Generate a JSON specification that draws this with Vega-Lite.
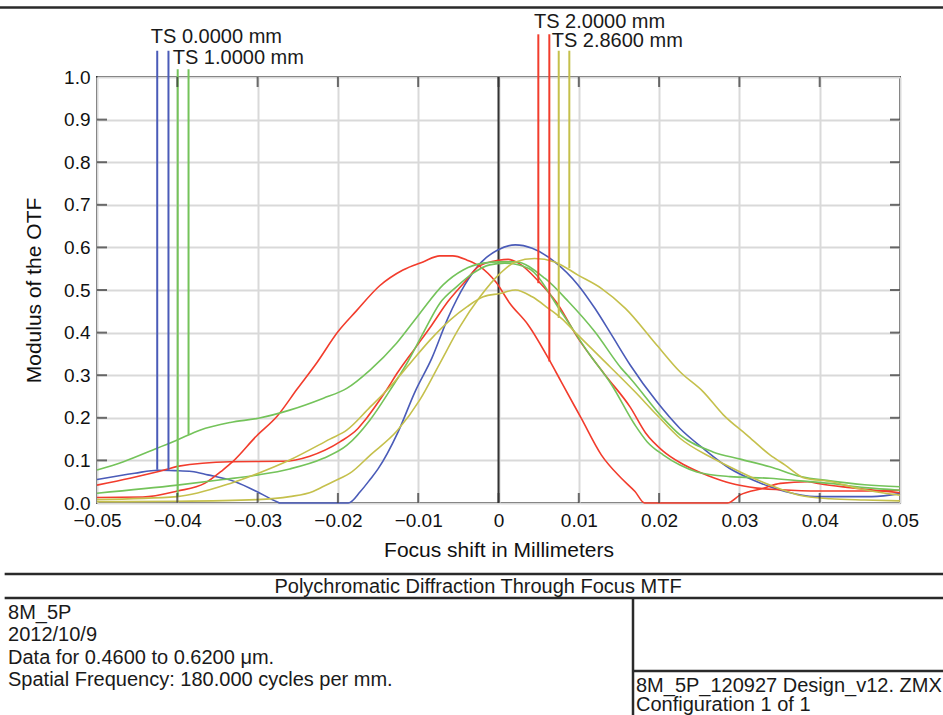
{
  "$schema": "https://vega.github.io/schema/vega-lite/v6.json",
  "width": 803,
  "height": 426,
  "autosize": {"type": "none"},
  "padding": {"left": 97, "top": 77, "right": 43, "bottom": 212},
  "background": "white",
  "config": {
    "view": {"stroke": "#333333", "strokeWidth": 2},
    "font": "Liberation Sans",
    "text": {"font": "Liberation Sans"},
    "axis": {
      "labelFont": "Liberation Sans", "labelFontSize": 19, "labelColor": "#111111",
      "labelFlush": false, "labelOverlap": false,
      "ticks": false, "domain": false,
      "grid": true, "gridColor": "#d9d9d9", "gridWidth": 2,
      "titleFont": "Liberation Sans", "titleFontSize": 21, "titleFontWeight": "normal",
      "titleColor": "#111111"
    }
  },
  "datasets": {
    "curves": [
      {"field": "TS 0.0000 mm", "curve": "T", "x": -0.05, "y": 0.055},
      {"field": "TS 0.0000 mm", "curve": "T", "x": -0.0453, "y": 0.07},
      {"field": "TS 0.0000 mm", "curve": "T", "x": -0.0424, "y": 0.077},
      {"field": "TS 0.0000 mm", "curve": "T", "x": -0.0403, "y": 0.076},
      {"field": "TS 0.0000 mm", "curve": "T", "x": -0.0382, "y": 0.074},
      {"field": "TS 0.0000 mm", "curve": "T", "x": -0.0362, "y": 0.066},
      {"field": "TS 0.0000 mm", "curve": "T", "x": -0.0328, "y": 0.05},
      {"field": "TS 0.0000 mm", "curve": "T", "x": -0.0297, "y": 0.023},
      {"field": "TS 0.0000 mm", "curve": "T", "x": -0.0276, "y": 0.003},
      {"field": "TS 0.0000 mm", "curve": "T", "x": -0.0272, "y": 0},
      {"field": "TS 0.0000 mm", "curve": "T", "x": -0.0187, "y": 0},
      {"field": "TS 0.0000 mm", "curve": "T", "x": -0.0172, "y": 0.027},
      {"field": "TS 0.0000 mm", "curve": "T", "x": -0.016, "y": 0.055},
      {"field": "TS 0.0000 mm", "curve": "T", "x": -0.015, "y": 0.08},
      {"field": "TS 0.0000 mm", "curve": "T", "x": -0.0125, "y": 0.167},
      {"field": "TS 0.0000 mm", "curve": "T", "x": -0.0104, "y": 0.261},
      {"field": "TS 0.0000 mm", "curve": "T", "x": -0.0083, "y": 0.34},
      {"field": "TS 0.0000 mm", "curve": "T", "x": -0.0063, "y": 0.434},
      {"field": "TS 0.0000 mm", "curve": "T", "x": -0.0042, "y": 0.512},
      {"field": "TS 0.0000 mm", "curve": "T", "x": -0.0021, "y": 0.566},
      {"field": "TS 0.0000 mm", "curve": "T", "x": -0.0001, "y": 0.594},
      {"field": "TS 0.0000 mm", "curve": "T", "x": 0.0021, "y": 0.606},
      {"field": "TS 0.0000 mm", "curve": "T", "x": 0.0042, "y": 0.598},
      {"field": "TS 0.0000 mm", "curve": "T", "x": 0.007, "y": 0.566},
      {"field": "TS 0.0000 mm", "curve": "T", "x": 0.0099, "y": 0.512},
      {"field": "TS 0.0000 mm", "curve": "T", "x": 0.012, "y": 0.457},
      {"field": "TS 0.0000 mm", "curve": "T", "x": 0.0141, "y": 0.394},
      {"field": "TS 0.0000 mm", "curve": "T", "x": 0.0164, "y": 0.324},
      {"field": "TS 0.0000 mm", "curve": "T", "x": 0.0197, "y": 0.238},
      {"field": "TS 0.0000 mm", "curve": "T", "x": 0.0226, "y": 0.175},
      {"field": "TS 0.0000 mm", "curve": "T", "x": 0.0255, "y": 0.128},
      {"field": "TS 0.0000 mm", "curve": "T", "x": 0.0288, "y": 0.081},
      {"field": "TS 0.0000 mm", "curve": "T", "x": 0.0322, "y": 0.05},
      {"field": "TS 0.0000 mm", "curve": "T", "x": 0.0338, "y": 0.038},
      {"field": "TS 0.0000 mm", "curve": "T", "x": 0.0357, "y": 0.027},
      {"field": "TS 0.0000 mm", "curve": "T", "x": 0.0394, "y": 0.015},
      {"field": "TS 0.0000 mm", "curve": "T", "x": 0.0465, "y": 0.015},
      {"field": "TS 0.0000 mm", "curve": "T", "x": 0.05, "y": 0.022},

      {"field": "TS 2.0000 mm", "curve": "T", "x": -0.05, "y": 0.013},
      {"field": "TS 2.0000 mm", "curve": "T", "x": -0.0443, "y": 0.014},
      {"field": "TS 2.0000 mm", "curve": "T", "x": -0.04, "y": 0.028},
      {"field": "TS 2.0000 mm", "curve": "T", "x": -0.0366, "y": 0.046},
      {"field": "TS 2.0000 mm", "curve": "T", "x": -0.0343, "y": 0.078},
      {"field": "TS 2.0000 mm", "curve": "T", "x": -0.0331, "y": 0.097},
      {"field": "TS 2.0000 mm", "curve": "T", "x": -0.0301, "y": 0.158},
      {"field": "TS 2.0000 mm", "curve": "T", "x": -0.0276, "y": 0.203},
      {"field": "TS 2.0000 mm", "curve": "T", "x": -0.0251, "y": 0.267},
      {"field": "TS 2.0000 mm", "curve": "T", "x": -0.0226, "y": 0.33},
      {"field": "TS 2.0000 mm", "curve": "T", "x": -0.02, "y": 0.402},
      {"field": "TS 2.0000 mm", "curve": "T", "x": -0.0177, "y": 0.451},
      {"field": "TS 2.0000 mm", "curve": "T", "x": -0.0148, "y": 0.51},
      {"field": "TS 2.0000 mm", "curve": "T", "x": -0.0119, "y": 0.547},
      {"field": "TS 2.0000 mm", "curve": "T", "x": -0.0094, "y": 0.566},
      {"field": "TS 2.0000 mm", "curve": "T", "x": -0.0073, "y": 0.58},
      {"field": "TS 2.0000 mm", "curve": "T", "x": -0.0057, "y": 0.58},
      {"field": "TS 2.0000 mm", "curve": "T", "x": -0.0039, "y": 0.57},
      {"field": "TS 2.0000 mm", "curve": "T", "x": -0.0023, "y": 0.555},
      {"field": "TS 2.0000 mm", "curve": "T", "x": -0.0003, "y": 0.518},
      {"field": "TS 2.0000 mm", "curve": "T", "x": 0.0014, "y": 0.469},
      {"field": "TS 2.0000 mm", "curve": "T", "x": 0.0037, "y": 0.418},
      {"field": "TS 2.0000 mm", "curve": "T", "x": 0.0062, "y": 0.34},
      {"field": "TS 2.0000 mm", "curve": "T", "x": 0.0078, "y": 0.285},
      {"field": "TS 2.0000 mm", "curve": "T", "x": 0.0103, "y": 0.199},
      {"field": "TS 2.0000 mm", "curve": "T", "x": 0.0128, "y": 0.113},
      {"field": "TS 2.0000 mm", "curve": "T", "x": 0.0153, "y": 0.058},
      {"field": "TS 2.0000 mm", "curve": "T", "x": 0.017, "y": 0.027},
      {"field": "TS 2.0000 mm", "curve": "T", "x": 0.0182, "y": 0},
      {"field": "TS 2.0000 mm", "curve": "T", "x": 0.0285, "y": 0},
      {"field": "TS 2.0000 mm", "curve": "T", "x": 0.0301, "y": 0.019},
      {"field": "TS 2.0000 mm", "curve": "T", "x": 0.0329, "y": 0.034},
      {"field": "TS 2.0000 mm", "curve": "T", "x": 0.0351, "y": 0.046},
      {"field": "TS 2.0000 mm", "curve": "T", "x": 0.0385, "y": 0.05},
      {"field": "TS 2.0000 mm", "curve": "T", "x": 0.04, "y": 0.045},
      {"field": "TS 2.0000 mm", "curve": "T", "x": 0.0438, "y": 0.036},
      {"field": "TS 2.0000 mm", "curve": "T", "x": 0.05, "y": 0.024},

      {"field": "TS 2.0000 mm", "curve": "S", "x": -0.05, "y": 0.042},
      {"field": "TS 2.0000 mm", "curve": "S", "x": -0.0459, "y": 0.058},
      {"field": "TS 2.0000 mm", "curve": "S", "x": -0.0413, "y": 0.079},
      {"field": "TS 2.0000 mm", "curve": "S", "x": -0.04, "y": 0.086},
      {"field": "TS 2.0000 mm", "curve": "S", "x": -0.0334, "y": 0.097},
      {"field": "TS 2.0000 mm", "curve": "S", "x": -0.0268, "y": 0.098},
      {"field": "TS 2.0000 mm", "curve": "S", "x": -0.0235, "y": 0.11},
      {"field": "TS 2.0000 mm", "curve": "S", "x": -0.0197, "y": 0.144},
      {"field": "TS 2.0000 mm", "curve": "S", "x": -0.0175, "y": 0.175},
      {"field": "TS 2.0000 mm", "curve": "S", "x": -0.0166, "y": 0.195},
      {"field": "TS 2.0000 mm", "curve": "S", "x": -0.0141, "y": 0.261},
      {"field": "TS 2.0000 mm", "curve": "S", "x": -0.0125, "y": 0.308},
      {"field": "TS 2.0000 mm", "curve": "S", "x": -0.0104, "y": 0.363},
      {"field": "TS 2.0000 mm", "curve": "S", "x": -0.0083, "y": 0.418},
      {"field": "TS 2.0000 mm", "curve": "S", "x": -0.0063, "y": 0.473},
      {"field": "TS 2.0000 mm", "curve": "S", "x": -0.0042, "y": 0.519},
      {"field": "TS 2.0000 mm", "curve": "S", "x": -0.0025, "y": 0.555},
      {"field": "TS 2.0000 mm", "curve": "S", "x": 0, "y": 0.57},
      {"field": "TS 2.0000 mm", "curve": "S", "x": 0.0012, "y": 0.572},
      {"field": "TS 2.0000 mm", "curve": "S", "x": 0.0025, "y": 0.563},
      {"field": "TS 2.0000 mm", "curve": "S", "x": 0.005, "y": 0.52},
      {"field": "TS 2.0000 mm", "curve": "S", "x": 0.0073, "y": 0.469},
      {"field": "TS 2.0000 mm", "curve": "S", "x": 0.0098, "y": 0.39},
      {"field": "TS 2.0000 mm", "curve": "S", "x": 0.0133, "y": 0.3},
      {"field": "TS 2.0000 mm", "curve": "S", "x": 0.0164, "y": 0.225},
      {"field": "TS 2.0000 mm", "curve": "S", "x": 0.0183, "y": 0.165},
      {"field": "TS 2.0000 mm", "curve": "S", "x": 0.0205, "y": 0.122},
      {"field": "TS 2.0000 mm", "curve": "S", "x": 0.0226, "y": 0.095},
      {"field": "TS 2.0000 mm", "curve": "S", "x": 0.0247, "y": 0.075},
      {"field": "TS 2.0000 mm", "curve": "S", "x": 0.0267, "y": 0.06},
      {"field": "TS 2.0000 mm", "curve": "S", "x": 0.0288, "y": 0.047},
      {"field": "TS 2.0000 mm", "curve": "S", "x": 0.0322, "y": 0.035},
      {"field": "TS 2.0000 mm", "curve": "S", "x": 0.0351, "y": 0.031},
      {"field": "TS 2.0000 mm", "curve": "S", "x": 0.04, "y": 0.028},
      {"field": "TS 2.0000 mm", "curve": "S", "x": 0.045, "y": 0.028},
      {"field": "TS 2.0000 mm", "curve": "S", "x": 0.05, "y": 0.03},

      {"field": "TS 1.0000 mm", "curve": "T", "x": -0.05, "y": 0.0775},
      {"field": "TS 1.0000 mm", "curve": "T", "x": -0.0467, "y": 0.097},
      {"field": "TS 1.0000 mm", "curve": "T", "x": -0.0426, "y": 0.128},
      {"field": "TS 1.0000 mm", "curve": "T", "x": -0.04, "y": 0.148},
      {"field": "TS 1.0000 mm", "curve": "T", "x": -0.0372, "y": 0.171},
      {"field": "TS 1.0000 mm", "curve": "T", "x": -0.0334, "y": 0.189},
      {"field": "TS 1.0000 mm", "curve": "T", "x": -0.0299, "y": 0.199},
      {"field": "TS 1.0000 mm", "curve": "T", "x": -0.026, "y": 0.218},
      {"field": "TS 1.0000 mm", "curve": "T", "x": -0.0218, "y": 0.246},
      {"field": "TS 1.0000 mm", "curve": "T", "x": -0.0189, "y": 0.269},
      {"field": "TS 1.0000 mm", "curve": "T", "x": -0.016, "y": 0.312},
      {"field": "TS 1.0000 mm", "curve": "T", "x": -0.0127, "y": 0.375},
      {"field": "TS 1.0000 mm", "curve": "T", "x": -0.0098, "y": 0.445},
      {"field": "TS 1.0000 mm", "curve": "T", "x": -0.0069, "y": 0.512},
      {"field": "TS 1.0000 mm", "curve": "T", "x": -0.0044, "y": 0.547},
      {"field": "TS 1.0000 mm", "curve": "T", "x": -0.0019, "y": 0.563},
      {"field": "TS 1.0000 mm", "curve": "T", "x": 0.0002, "y": 0.566},
      {"field": "TS 1.0000 mm", "curve": "T", "x": 0.0021, "y": 0.566},
      {"field": "TS 1.0000 mm", "curve": "T", "x": 0.0058, "y": 0.527},
      {"field": "TS 1.0000 mm", "curve": "T", "x": 0.0087, "y": 0.473},
      {"field": "TS 1.0000 mm", "curve": "T", "x": 0.012, "y": 0.402},
      {"field": "TS 1.0000 mm", "curve": "T", "x": 0.0153, "y": 0.316},
      {"field": "TS 1.0000 mm", "curve": "T", "x": 0.0164, "y": 0.293},
      {"field": "TS 1.0000 mm", "curve": "T", "x": 0.0205, "y": 0.199},
      {"field": "TS 1.0000 mm", "curve": "T", "x": 0.0226, "y": 0.16},
      {"field": "TS 1.0000 mm", "curve": "T", "x": 0.0267, "y": 0.12},
      {"field": "TS 1.0000 mm", "curve": "T", "x": 0.0301, "y": 0.103},
      {"field": "TS 1.0000 mm", "curve": "T", "x": 0.0338, "y": 0.085},
      {"field": "TS 1.0000 mm", "curve": "T", "x": 0.0376, "y": 0.062},
      {"field": "TS 1.0000 mm", "curve": "T", "x": 0.0413, "y": 0.052},
      {"field": "TS 1.0000 mm", "curve": "T", "x": 0.0456, "y": 0.043},
      {"field": "TS 1.0000 mm", "curve": "T", "x": 0.05, "y": 0.038},

      {"field": "TS 1.0000 mm", "curve": "S", "x": -0.05, "y": 0.023},
      {"field": "TS 1.0000 mm", "curve": "S", "x": -0.04, "y": 0.042},
      {"field": "TS 1.0000 mm", "curve": "S", "x": -0.0343, "y": 0.055},
      {"field": "TS 1.0000 mm", "curve": "S", "x": -0.0299, "y": 0.066},
      {"field": "TS 1.0000 mm", "curve": "S", "x": -0.026, "y": 0.08},
      {"field": "TS 1.0000 mm", "curve": "S", "x": -0.0218, "y": 0.105},
      {"field": "TS 1.0000 mm", "curve": "S", "x": -0.0189, "y": 0.135},
      {"field": "TS 1.0000 mm", "curve": "S", "x": -0.016, "y": 0.195},
      {"field": "TS 1.0000 mm", "curve": "S", "x": -0.0135, "y": 0.265},
      {"field": "TS 1.0000 mm", "curve": "S", "x": -0.0114, "y": 0.328},
      {"field": "TS 1.0000 mm", "curve": "S", "x": -0.0094, "y": 0.398},
      {"field": "TS 1.0000 mm", "curve": "S", "x": -0.0073, "y": 0.469},
      {"field": "TS 1.0000 mm", "curve": "S", "x": -0.0052, "y": 0.508},
      {"field": "TS 1.0000 mm", "curve": "S", "x": -0.0032, "y": 0.539},
      {"field": "TS 1.0000 mm", "curve": "S", "x": -0.0011, "y": 0.559},
      {"field": "TS 1.0000 mm", "curve": "S", "x": 0.0008, "y": 0.563},
      {"field": "TS 1.0000 mm", "curve": "S", "x": 0.0037, "y": 0.551},
      {"field": "TS 1.0000 mm", "curve": "S", "x": 0.0078, "y": 0.449},
      {"field": "TS 1.0000 mm", "curve": "S", "x": 0.0111, "y": 0.355},
      {"field": "TS 1.0000 mm", "curve": "S", "x": 0.0141, "y": 0.277},
      {"field": "TS 1.0000 mm", "curve": "S", "x": 0.017, "y": 0.183},
      {"field": "TS 1.0000 mm", "curve": "S", "x": 0.0185, "y": 0.144},
      {"field": "TS 1.0000 mm", "curve": "S", "x": 0.0205, "y": 0.113},
      {"field": "TS 1.0000 mm", "curve": "S", "x": 0.0226, "y": 0.089},
      {"field": "TS 1.0000 mm", "curve": "S", "x": 0.0247, "y": 0.073},
      {"field": "TS 1.0000 mm", "curve": "S", "x": 0.0288, "y": 0.062},
      {"field": "TS 1.0000 mm", "curve": "S", "x": 0.0338, "y": 0.058},
      {"field": "TS 1.0000 mm", "curve": "S", "x": 0.0376, "y": 0.052},
      {"field": "TS 1.0000 mm", "curve": "S", "x": 0.0413, "y": 0.046},
      {"field": "TS 1.0000 mm", "curve": "S", "x": 0.0456, "y": 0.036},
      {"field": "TS 1.0000 mm", "curve": "S", "x": 0.05, "y": 0.03},

      {"field": "TS 2.8600 mm", "curve": "T", "x": -0.05, "y": 0.003},
      {"field": "TS 2.8600 mm", "curve": "T", "x": -0.04, "y": 0.004},
      {"field": "TS 2.8600 mm", "curve": "T", "x": -0.0301, "y": 0.008},
      {"field": "TS 2.8600 mm", "curve": "T", "x": -0.026, "y": 0.015},
      {"field": "TS 2.8600 mm", "curve": "T", "x": -0.0231, "y": 0.027},
      {"field": "TS 2.8600 mm", "curve": "T", "x": -0.0219, "y": 0.038},
      {"field": "TS 2.8600 mm", "curve": "T", "x": -0.0197, "y": 0.058},
      {"field": "TS 2.8600 mm", "curve": "T", "x": -0.0185, "y": 0.07},
      {"field": "TS 2.8600 mm", "curve": "T", "x": -0.016, "y": 0.112},
      {"field": "TS 2.8600 mm", "curve": "T", "x": -0.0126, "y": 0.17},
      {"field": "TS 2.8600 mm", "curve": "T", "x": -0.0098, "y": 0.242},
      {"field": "TS 2.8600 mm", "curve": "T", "x": -0.0073, "y": 0.328},
      {"field": "TS 2.8600 mm", "curve": "T", "x": -0.0048, "y": 0.414},
      {"field": "TS 2.8600 mm", "curve": "T", "x": -0.0023, "y": 0.484},
      {"field": "TS 2.8600 mm", "curve": "T", "x": 0.0002, "y": 0.539},
      {"field": "TS 2.8600 mm", "curve": "T", "x": 0.0021, "y": 0.566},
      {"field": "TS 2.8600 mm", "curve": "T", "x": 0.0045, "y": 0.574},
      {"field": "TS 2.8600 mm", "curve": "T", "x": 0.007, "y": 0.566},
      {"field": "TS 2.8600 mm", "curve": "T", "x": 0.0099, "y": 0.535},
      {"field": "TS 2.8600 mm", "curve": "T", "x": 0.0128, "y": 0.504},
      {"field": "TS 2.8600 mm", "curve": "T", "x": 0.0158, "y": 0.457},
      {"field": "TS 2.8600 mm", "curve": "T", "x": 0.0197, "y": 0.371},
      {"field": "TS 2.8600 mm", "curve": "T", "x": 0.0226, "y": 0.308},
      {"field": "TS 2.8600 mm", "curve": "T", "x": 0.0255, "y": 0.261},
      {"field": "TS 2.8600 mm", "curve": "T", "x": 0.028, "y": 0.207},
      {"field": "TS 2.8600 mm", "curve": "T", "x": 0.0309, "y": 0.16},
      {"field": "TS 2.8600 mm", "curve": "T", "x": 0.0338, "y": 0.113},
      {"field": "TS 2.8600 mm", "curve": "T", "x": 0.0357, "y": 0.089},
      {"field": "TS 2.8600 mm", "curve": "T", "x": 0.0382, "y": 0.058},
      {"field": "TS 2.8600 mm", "curve": "T", "x": 0.0415, "y": 0.05},
      {"field": "TS 2.8600 mm", "curve": "T", "x": 0.0448, "y": 0.034},
      {"field": "TS 2.8600 mm", "curve": "T", "x": 0.05, "y": 0.018},

      {"field": "TS 2.8600 mm", "curve": "S", "x": -0.05, "y": 0.008},
      {"field": "TS 2.8600 mm", "curve": "S", "x": -0.04, "y": 0.015},
      {"field": "TS 2.8600 mm", "curve": "S", "x": -0.0334, "y": 0.046},
      {"field": "TS 2.8600 mm", "curve": "S", "x": -0.0299, "y": 0.07},
      {"field": "TS 2.8600 mm", "curve": "S", "x": -0.026, "y": 0.101},
      {"field": "TS 2.8600 mm", "curve": "S", "x": -0.021, "y": 0.15},
      {"field": "TS 2.8600 mm", "curve": "S", "x": -0.0189, "y": 0.171},
      {"field": "TS 2.8600 mm", "curve": "S", "x": -0.016, "y": 0.225},
      {"field": "TS 2.8600 mm", "curve": "S", "x": -0.0135, "y": 0.273},
      {"field": "TS 2.8600 mm", "curve": "S", "x": -0.011, "y": 0.328},
      {"field": "TS 2.8600 mm", "curve": "S", "x": -0.0085, "y": 0.383},
      {"field": "TS 2.8600 mm", "curve": "S", "x": -0.006, "y": 0.43},
      {"field": "TS 2.8600 mm", "curve": "S", "x": -0.0039, "y": 0.461},
      {"field": "TS 2.8600 mm", "curve": "S", "x": -0.0019, "y": 0.484},
      {"field": "TS 2.8600 mm", "curve": "S", "x": 0.0002, "y": 0.492},
      {"field": "TS 2.8600 mm", "curve": "S", "x": 0.0021, "y": 0.5},
      {"field": "TS 2.8600 mm", "curve": "S", "x": 0.0042, "y": 0.484},
      {"field": "TS 2.8600 mm", "curve": "S", "x": 0.0062, "y": 0.457},
      {"field": "TS 2.8600 mm", "curve": "S", "x": 0.0078, "y": 0.434},
      {"field": "TS 2.8600 mm", "curve": "S", "x": 0.0099, "y": 0.394},
      {"field": "TS 2.8600 mm", "curve": "S", "x": 0.0128, "y": 0.34},
      {"field": "TS 2.8600 mm", "curve": "S", "x": 0.017, "y": 0.261},
      {"field": "TS 2.8600 mm", "curve": "S", "x": 0.0197, "y": 0.207},
      {"field": "TS 2.8600 mm", "curve": "S", "x": 0.0226, "y": 0.152},
      {"field": "TS 2.8600 mm", "curve": "S", "x": 0.0267, "y": 0.105},
      {"field": "TS 2.8600 mm", "curve": "S", "x": 0.0301, "y": 0.073},
      {"field": "TS 2.8600 mm", "curve": "S", "x": 0.0338, "y": 0.042},
      {"field": "TS 2.8600 mm", "curve": "S", "x": 0.0373, "y": 0.019},
      {"field": "TS 2.8600 mm", "curve": "S", "x": 0.0413, "y": 0.01},
      {"field": "TS 2.8600 mm", "curve": "S", "x": 0.0456, "y": 0.007},
      {"field": "TS 2.8600 mm", "curve": "S", "x": 0.05, "y": 0.005}
    ],
    "markers": [
      {"field": "TS 0.0000 mm", "x": -0.0425, "top": 1.0617, "bottom": 0.078},
      {"field": "TS 0.0000 mm", "x": -0.0411, "top": 1.0617, "bottom": 0.078},
      {"field": "TS 1.0000 mm", "x": -0.03995, "top": 1.018, "bottom": 0.015},
      {"field": "TS 1.0000 mm", "x": -0.0386, "top": 1.018, "bottom": 0.16},
      {"field": "TS 2.0000 mm", "x": 0.00496, "top": 1.1002, "bottom": 0.516},
      {"field": "TS 2.0000 mm", "x": 0.00633, "top": 1.1002, "bottom": 0.332},
      {"field": "TS 2.8600 mm", "x": 0.0075, "top": 1.0617, "bottom": 0.434},
      {"field": "TS 2.8600 mm", "x": 0.00882, "top": 1.0617, "bottom": 0.551}
    ],
    "labels": [
      {"label": "TS 0.0000 mm", "x": -0.0433, "y": 1.0791},
      {"label": "TS 1.0000 mm", "x": -0.04057, "y": 1.0298},
      {"label": "TS 2.0000 mm", "x": 0.00442, "y": 1.1143},
      {"label": "TS 2.8600 mm", "x": 0.00662, "y": 1.0697}
    ],
    "xticks": [{"x": -0.04}, {"x": -0.03}, {"x": -0.02}, {"x": -0.01}, {"x": 0}, {"x": 0.01}, {"x": 0.02}, {"x": 0.03}, {"x": 0.04}],
    "yticks": [{"y": 0.1}, {"y": 0.2}, {"y": 0.3}, {"y": 0.4}, {"y": 0.5}, {"y": 0.6}, {"y": 0.7}, {"y": 0.8}, {"y": 0.9}],
    "boxlines": [
      {"x": -0.0625, "x2": 0.056, "y": 1.1631, "y2": 1.1631},
      {"x": -0.0615, "x2": 0.056, "y": -0.1667, "y2": -0.1667},
      {"x": -0.0615, "x2": 0.056, "y": -0.223, "y2": -0.223},
      {"x": 0.01675, "x2": 0.01675, "y": -0.223, "y2": -0.52},
      {"x": 0.01675, "x2": 0.056, "y": -0.3944, "y2": -0.3944}
    ],
    "notes": [
      {"text": "8M_5P", "x": -0.06108, "y": -0.2723},
      {"text": "2012/10/9", "x": -0.06108, "y": -0.3239},
      {"text": "Data for 0.4600 to 0.6200 μm.", "x": -0.06108, "y": -0.3779},
      {"text": "Spatial Frequency: 180.000 cycles per mm.", "x": -0.06108, "y": -0.4296},
      {"text": "8M_5P_120927 Design_v12. ZMX", "x": 0.01712, "y": -0.4425},
      {"text": "Configuration 1 of 1", "x": 0.01712, "y": -0.4894}
    ],
    "heading": [
      {"text": "Polychromatic Diffraction Through Focus MTF", "x": -0.00255, "y": -0.2113}
    ]
  },
  "layer": [
    {
      "data": {"values": [{"x": 0, "y": 0, "y2": 1}]},
      "mark": {"type": "rule", "color": "#333333", "strokeWidth": 2},
      "encoding": {
        "x": {
          "field": "x", "type": "quantitative",
          "scale": {"domain": [-0.05, 0.05], "nice": false, "zero": false},
          "axis": {
            "values": [-0.05, -0.04, -0.03, -0.02, -0.01, 0, 0.01, 0.02, 0.03, 0.04, 0.05],
            "labelExpr": "datum.value == 0 ? '0' : format(datum.value, '.2f')",
            "labelPadding": 8,
            "title": "Focus shift in Millimeters",
            "titlePadding": 9
          }
        },
        "y": {
          "field": "y", "type": "quantitative",
          "scale": {"domain": [0, 1], "nice": false, "zero": false},
          "axis": {
            "values": [0, 0.1, 0.2, 0.3, 0.4, 0.5, 0.6, 0.7, 0.8, 0.9, 1],
            "format": ".1f",
            "labelPadding": 7,
            "title": "Modulus of the OTF",
            "titlePadding": 19
          }
        },
        "y2": {"field": "y2"}
      }
    },
    {
      "data": {"name": "curves"},
      "mark": {"type": "line", "strokeWidth": 1.6, "interpolate": "monotone"},
      "encoding": {
        "x": {"field": "x", "type": "quantitative"},
        "y": {"field": "y", "type": "quantitative"},
        "color": {
          "field": "field", "type": "nominal", "legend": null,
          "scale": {"domain": ["TS 0.0000 mm", "TS 1.0000 mm", "TS 2.0000 mm", "TS 2.8600 mm"], "range": ["#4a5bb8", "#74c35a", "#f23c2c", "#c5c04c"]}
        },
        "detail": {"field": "curve"}
      }
    },
    {
      "data": {"name": "markers"},
      "mark": {"type": "rule", "strokeWidth": 2},
      "encoding": {
        "x": {"field": "x", "type": "quantitative"},
        "y": {"field": "top", "type": "quantitative"},
        "y2": {"field": "bottom"},
        "color": {"field": "field", "type": "nominal", "legend": null}
      }
    },
    {
      "data": {"name": "labels"},
      "mark": {"type": "text", "align": "left", "baseline": "alphabetic", "fontSize": 20, "color": "#1a1a1a", "font": "Liberation Sans"},
      "encoding": {
        "x": {"field": "x", "type": "quantitative"},
        "y": {"field": "y", "type": "quantitative"},
        "text": {"field": "label"}
      }
    },
    {
      "data": {"name": "xticks"},
      "mark": {"type": "tick", "orient": "vertical", "size": 10, "thickness": 2, "yOffset": -5, "color": "#333333"},
      "encoding": {
        "x": {"field": "x", "type": "quantitative"},
        "y": {"datum": 0, "type": "quantitative"}
      }
    },
    {
      "data": {"name": "xticks"},
      "mark": {"type": "tick", "orient": "vertical", "size": 10, "thickness": 2, "yOffset": 5, "color": "#333333"},
      "encoding": {
        "x": {"field": "x", "type": "quantitative"},
        "y": {"datum": 1, "type": "quantitative"}
      }
    },
    {
      "data": {"name": "yticks"},
      "mark": {"type": "tick", "orient": "horizontal", "size": 10, "thickness": 2, "xOffset": 5, "color": "#333333"},
      "encoding": {
        "x": {"datum": -0.05, "type": "quantitative"},
        "y": {"field": "y", "type": "quantitative"}
      }
    },
    {
      "data": {"name": "yticks"},
      "mark": {"type": "tick", "orient": "horizontal", "size": 10, "thickness": 2, "xOffset": -5, "color": "#333333"},
      "encoding": {
        "x": {"datum": 0.05, "type": "quantitative"},
        "y": {"field": "y", "type": "quantitative"}
      }
    },
    {
      "data": {"name": "boxlines"},
      "mark": {"type": "rule", "color": "#2a2a2a", "strokeWidth": 2.5},
      "encoding": {
        "x": {"field": "x", "type": "quantitative"},
        "x2": {"field": "x2"},
        "y": {"field": "y", "type": "quantitative"},
        "y2": {"field": "y2"}
      }
    },
    {
      "data": {"name": "notes"},
      "mark": {"type": "text", "align": "left", "baseline": "alphabetic", "fontSize": 20, "color": "#1a1a1a", "font": "Liberation Sans"},
      "encoding": {
        "x": {"field": "x", "type": "quantitative"},
        "y": {"field": "y", "type": "quantitative"},
        "text": {"field": "text"}
      }
    },
    {
      "data": {"name": "heading"},
      "mark": {"type": "text", "align": "center", "baseline": "alphabetic", "fontSize": 20, "color": "#1a1a1a", "font": "Liberation Sans"},
      "encoding": {
        "x": {"field": "x", "type": "quantitative"},
        "y": {"field": "y", "type": "quantitative"},
        "text": {"field": "text"}
      }
    }
  ]
}
